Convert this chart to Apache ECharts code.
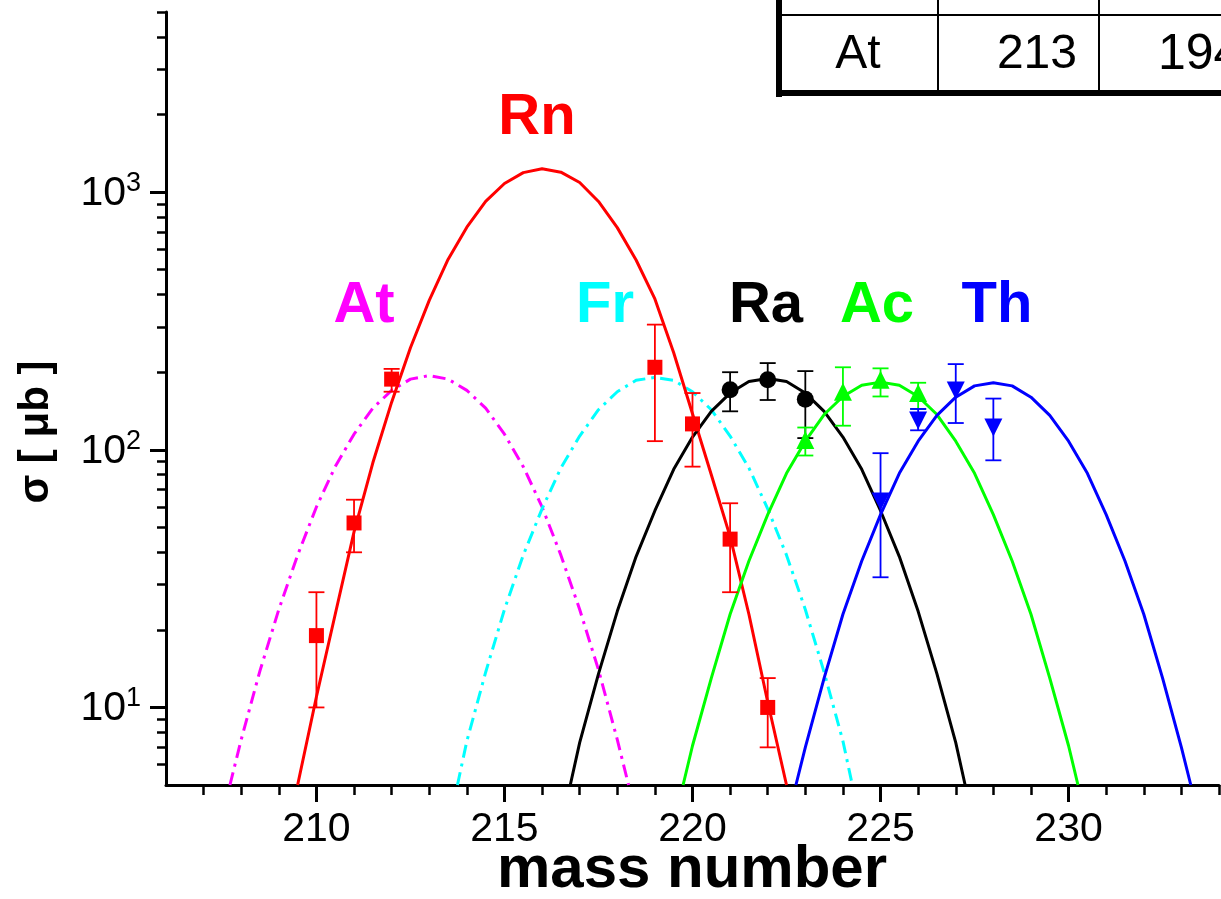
<!DOCTYPE html>
<html><head><meta charset="utf-8">
<script src="https://cdn.jsdelivr.net/npm/echarts@6/dist/echarts.min.js"></script>
<style>html,body{margin:0;padding:0;background:#fff}#c{width:1221px;height:899px}</style>
</head><body><div id="c"></div>
<script>
const FONT = '"Liberation Sans", Arial, Helvetica, sans-serif';

// ---- axes ----
const xMin = 206, xMax = 234;
const xTickLabels = [210, 215, 220, 225, 230];
const xMinorTicks = [207,208,209,211,212,213,214,216,217,218,219,221,222,223,224,226,227,228,229,231,232,233,234];
const yMin = 5, yMax = 5000;
const yTickValues = [10, 100, 1000];
const yTickExponents = ['1', '2', '3'];
const yMinorTicks = [6,7,8,9,20,30,40,50,60,70,80,90,200,300,400,500,600,700,800,900,2000,3000,4000,5000];

// ---- measured cross sections (value, lower, upper) ----
const rnMass  = [210, 211, 212, 219, 220, 221, 222];
const rnSigma = [19, 52, 188, 209, 126, 45, 10];
const rnLow   = [10, 40, 168, 108, 86, 28, 7];
const rnHigh  = [28, 64, 206, 306, 166, 62, 13];

const raMass  = [221, 222, 223];
const raSigma = [171, 187, 157];
const raLow   = [141, 156, 111];
const raHigh  = [200, 217, 202];

const acMass  = [223, 224, 225, 226];
const acSigma = [109, 168, 187, 166];
const acLow   = [95, 124, 161, 144];
const acHigh  = [122, 209, 207, 182];

const thMass  = [225, 226, 227, 228];
const thSigma = [63, 130, 170, 122];
const thLow   = [32, 119, 127, 91];
const thHigh  = [97, 144, 215, 158];

// ---- fitted curves ----
const rnCurveMass  = [209.5,210,210.5,211,211.5,212,212.5,213,213.5,214,214.5,215,215.5,216,216.5,217,217.5,218,218.5,219,219.5,220,220.5,221,221.5,222,222.5];
const rnCurveSigma = [5,11,23,48,89,153,249,380,548,731,920,1080,1190,1232,1195,1090,920,728,545,385,238,138,80,46,23,10.5,5];

const atCurveMass  = [207.7,208,208.5,209,209.5,210,210.5,211,211.5,212,212.5,213,213.5,214,214.5,215,215.5,216,216.5,217,217.5,218,218.3];
const atCurveSigma = [5,7.5,13.9,24,39,60,86,115,145,170,188,194,188,170,145,115,86,60,39,24,14,7.5,5];

const frCurveMass  = [213.75,214,214.5,215,215.5,216,216.5,217,217.5,218,218.5,219,219.5,220,220.5,221,221.5,222,222.5,223,223.5,224,224.25];
const frCurveSigma = [5,7.4,13.7,24,39,59,85,113,143,168,186,191,186,168,143,113,85,59,39,24,13.7,7.4,5];

const raCurveMass  = [216.75,217,217.5,218,218.5,219,219.5,220,220.5,221,221.5,222,222.5,223,223.5,224,224.5,225,225.5,226,226.5,227,227.25];
const raCurveSigma = [5,7.3,13.5,23.6,38.5,58,84,112,141,166,184,189,184,166,141,112,84,58,38.5,23.6,13.5,7.3,5];

const acCurveMass  = [219.75,220,220.5,221,221.5,222,222.5,223,223.5,224,224.5,225,225.5,226,226.5,227,227.5,228,228.5,229,229.5,230,230.25];
const acCurveSigma = [5,7.1,13,23,37,56,81,108,137,161,178,183,178,161,137,108,81,56,37,23,13,7.1,5];

const thCurveMass  = [222.75,223,223.5,224,224.5,225,225.5,226,226.5,227,227.5,228,228.5,229,229.5,230,230.5,231,231.5,232,232.5,233,233.25];
const thCurveSigma = [5,7,13,23,37,56,81,108,136,160,177,182,177,160,136,108,81,56,37,23,13,7,5];

// ---- labels ----
const elementNames  = ['Rn', 'At', 'Fr', 'Ra', 'Ac', 'Th'];
const elementColors = ['#ff0000', '#ff00ff', '#00ffff', '#000000', '#00ff00', '#0000ff'];
const xTitle = 'mass number';
const yTitle = 'σ [ μb ]';
const tableRow = ['At', '213', '194'];

const zip = (a, b) => a.map((v, i) => [v, b[i]]);
const zip3 = (a, b, c) => a.map((v, i) => [v, b[i], c[i]]);

function curve(name, mass, sigma, color, dashed) {
  return {
    type: 'line', name, data: zip(mass, sigma), showSymbol: false, symbol: 'none',
    smooth: false, z: 2, silent: true,
    lineStyle: { color, width: 3, opacity: 1, type: dashed ? [13, 6, 3, 6] : 'solid' }
  };
}
function errBars(mass, low, high, color) {
  return {
    type: 'custom', data: zip3(mass, low, high), encode: { x: 0, y: [1, 2] }, z: 3, silent: true,
    renderItem(params, api) {
      const x = api.value(0);
      const pLo = api.coord([x, api.value(1)]);
      const pHi = api.coord([x, api.value(2)]);
      const w = 8;
      const st = { stroke: color, lineWidth: 1.8 };
      return { type: 'group', children: [
        { type: 'line', shape: { x1: pLo[0], y1: pLo[1], x2: pHi[0], y2: pHi[1] }, style: st },
        { type: 'line', shape: { x1: pLo[0] - w, y1: pLo[1], x2: pLo[0] + w, y2: pLo[1] }, style: st },
        { type: 'line', shape: { x1: pHi[0] - w, y1: pHi[1], x2: pHi[0] + w, y2: pHi[1] }, style: st }
      ]};
    }
  };
}
function points(mass, sigma, color, symbol, size, rot) {
  return {
    type: 'scatter', data: zip(mass, sigma), symbol, symbolSize: size, symbolRotate: rot || 0,
    itemStyle: { color, opacity: 1 }, z: 4, silent: true
  };
}

const chart = echarts.init(document.getElementById('c'), null, { renderer: 'canvas' });

function label(text, x, y, color) {
  return { type: 'text', x, y, z: 10, style: {
    text, fill: color, fontFamily: FONT, fontSize: 58, fontWeight: 'bold',
    textAlign: 'center', align: 'center', textVerticalAlign: 'middle', verticalAlign: 'middle' } };
}

const option = {
  animation: false,
  backgroundColor: '#ffffff',
  grid: { left: 166, right: 2, top: 12, bottom: 114, containLabel: false, outerBoundsMode: 'none' },
  xAxis: [
    { type: 'value', min: xMin, max: xMax, position: 'bottom',
      axisLine: { show: true, lineStyle: { color: '#000', width: 3 } },
      axisTick: { show: true, customValues: xTickLabels, length: 17, lineStyle: { color: '#000', width: 3 } },
      axisLabel: { customValues: xTickLabels, fontFamily: FONT, fontSize: 41, color: '#000', margin: 24 },
      splitLine: { show: false } },
    { type: 'value', min: xMin, max: xMax, position: 'bottom',
      axisLine: { show: false },
      axisTick: { show: true, customValues: xMinorTicks, length: 10, lineStyle: { color: '#000', width: 2.5 } },
      axisLabel: { show: false }, splitLine: { show: false } }
  ],
  yAxis: [
    { type: 'log', logBase: 10, min: yMin, max: yMax, position: 'left',
      axisLine: { show: true, lineStyle: { color: '#000', width: 3 } },
      axisTick: { show: false },
      splitLine: { show: false },
      axisLabel: {
        margin: 25, showMinLabel: false, showMaxLabel: false,
        formatter: v => {
          const i = yTickValues.findIndex(t => Math.abs(t - v) / t < 1e-6);
          return i < 0 ? '' : '{b|10}{s|' + yTickExponents[i] + '}';
        },
        rich: {
          b: { fontFamily: FONT, fontSize: 41, color: '#000', padding: [3, 0, 0, 0] },
          s: { fontFamily: FONT, fontSize: 27, color: '#000', verticalAlign: 'top' }
        }
      } },
    { type: 'value', min: Math.log10(yMin), max: Math.log10(yMax), position: 'left',
      axisLine: { show: false }, axisLabel: { show: false }, splitLine: { show: false },
      axisTick: { show: true, customValues: yTickValues.map(Math.log10), length: 16, lineStyle: { color: '#000', width: 3 } } },
    { type: 'value', min: Math.log10(yMin), max: Math.log10(yMax), position: 'left',
      axisLine: { show: false }, axisLabel: { show: false }, splitLine: { show: false },
      axisTick: { show: true, customValues: yMinorTicks.map(Math.log10), length: 9, lineStyle: { color: '#000', width: 2.5 } } }
  ],
  series: [
    curve('At fit', atCurveMass, atCurveSigma, elementColors[1], true),
    curve('Fr fit', frCurveMass, frCurveSigma, elementColors[2], true),
    curve('Rn fit', rnCurveMass, rnCurveSigma, elementColors[0], false),
    curve('Ra fit', raCurveMass, raCurveSigma, elementColors[3], false),
    curve('Ac fit', acCurveMass, acCurveSigma, elementColors[4], false),
    curve('Th fit', thCurveMass, thCurveSigma, elementColors[5], false),
    errBars(rnMass, rnLow, rnHigh, elementColors[0]),
    errBars(raMass, raLow, raHigh, elementColors[3]),
    errBars(acMass, acLow, acHigh, elementColors[4]),
    errBars(thMass, thLow, thHigh, elementColors[5]),
    points(rnMass, rnSigma, elementColors[0], 'rect', 15),
    points(raMass, raSigma, elementColors[3], 'circle', 17),
    points(acMass, acSigma, elementColors[4], 'triangle', 18),
    points(thMass, thSigma, elementColors[5], 'triangle', 18, 180)
  ],
  graphic: [
    label(elementNames[0], 537, 118, elementColors[0]),
    label(elementNames[1], 364, 306, elementColors[1]),
    label(elementNames[2], 605, 306, elementColors[2]),
    label(elementNames[3], 766, 306, elementColors[3]),
    label(elementNames[4], 877, 306, elementColors[4]),
    label(elementNames[5], 997, 306, elementColors[5]),
    { type: 'text', x: 692, y: 870, style: { text: xTitle, fill: '#000', fontFamily: FONT, fontSize: 60, fontWeight: 'bold',
      textAlign: 'center', align: 'center', textVerticalAlign: 'middle', verticalAlign: 'middle' } },
    { type: 'text', x: 36, y: 432, rotation: Math.PI / 2, style: { text: yTitle, fill: '#000', fontFamily: FONT, fontSize: 42, fontWeight: 'bold',
      textAlign: 'center', align: 'center', textVerticalAlign: 'middle', verticalAlign: 'middle' } },
    // table (top right, cropped)
    { type: 'rect', shape: { x: 776, y: 0, width: 6, height: 97 }, style: { fill: '#000' } },
    { type: 'rect', shape: { x: 776, y: 90, width: 445, height: 6 }, style: { fill: '#000' } },
    { type: 'line', shape: { x1: 782, y1: 15, x2: 1221, y2: 15 }, style: { stroke: '#000', lineWidth: 2 } },
    { type: 'line', shape: { x1: 938, y1: 0, x2: 938, y2: 90 }, style: { stroke: '#000', lineWidth: 2 } },
    { type: 'line', shape: { x1: 1099, y1: 0, x2: 1099, y2: 90 }, style: { stroke: '#000', lineWidth: 2 } },
    { type: 'text', x: 858, y: 55, style: { text: tableRow[0], fill: '#000', fontFamily: FONT, fontSize: 48,
      textAlign: 'center', align: 'center', textVerticalAlign: 'middle', verticalAlign: 'middle' } },
    { type: 'text', x: 1077, y: 55, style: { text: tableRow[1], fill: '#000', fontFamily: FONT, fontSize: 48,
      textAlign: 'right', align: 'right', textVerticalAlign: 'middle', verticalAlign: 'middle' } },
    { type: 'text', x: 1158, y: 55, style: { text: tableRow[2], fill: '#000', fontFamily: FONT, fontSize: 50,
      textAlign: 'left', align: 'left', textVerticalAlign: 'middle', verticalAlign: 'middle' } }
  ]
};
chart.setOption(option);
</script>
</body></html>
